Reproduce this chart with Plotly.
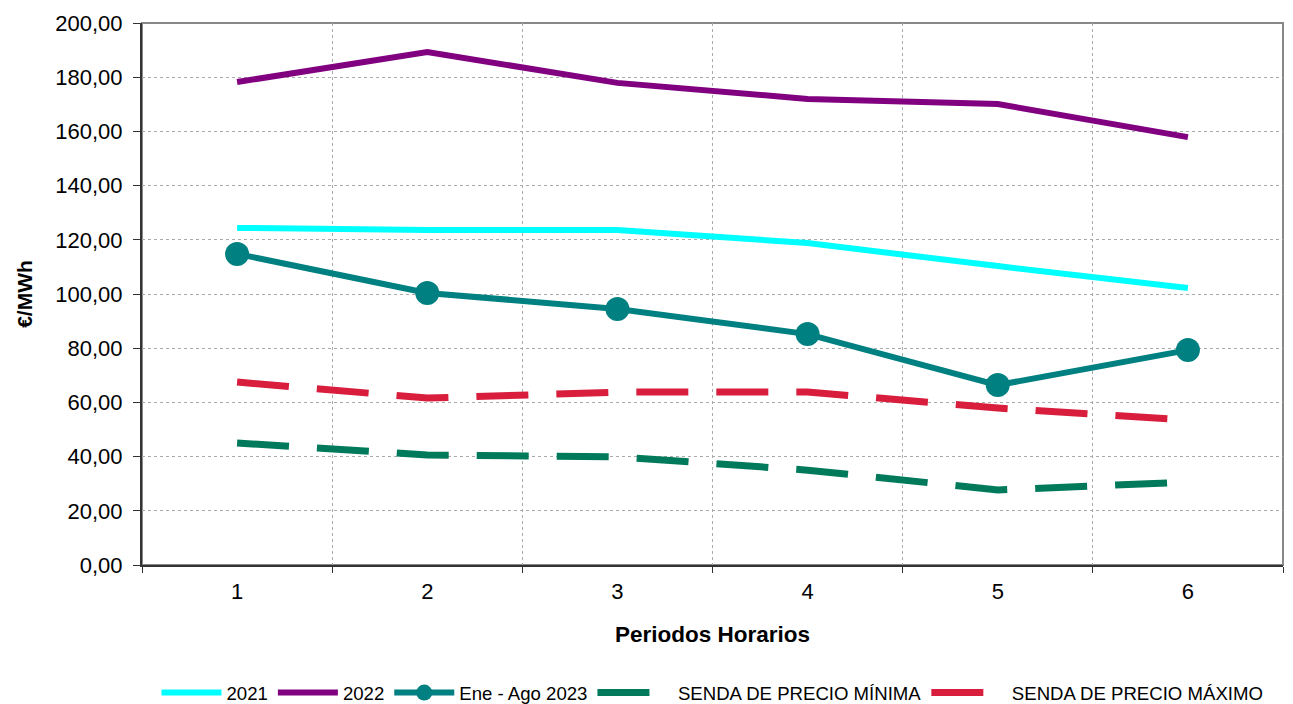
import plotly.graph_objects as go

periodos = [1, 2, 3, 4, 5, 6]
y2021 = [124.4, 123.6, 123.6, 118.8, 110.3, 102.2]
y2022 = [178.2, 189.3, 177.9, 172.0, 170.1, 157.9]
y2023 = [114.8, 100.4, 94.5, 85.2, 66.4, 79.3]
senda_min = [45.0, 40.6, 39.9, 35.0, 27.7, 30.6]
senda_max = [67.5, 61.6, 63.8, 63.8, 57.9, 53.5]

FONT = "Liberation Sans, Arial, sans-serif"

fig = go.Figure()
fig.add_trace(go.Scatter(x=periodos, y=y2021, name="2021", mode="lines",
                         line=dict(color="#00FFFF", width=6)))
fig.add_trace(go.Scatter(x=periodos, y=y2022, name="2022", mode="lines",
                         line=dict(color="#800080", width=6)))
fig.add_trace(go.Scatter(x=periodos, y=y2023, name="Ene - Ago 2023", mode="lines+markers",
                         line=dict(color="#008080", width=6),
                         marker=dict(color="#008080", size=24)))
fig.add_trace(go.Scatter(x=periodos, y=senda_min, name="   SENDA DE PRECIO MÍNIMA", mode="lines",
                         line=dict(color="#007A5A", width=7, dash="52px,28px")))
fig.add_trace(go.Scatter(x=periodos, y=senda_max, name="   SENDA DE PRECIO MÁXIMO", mode="lines",
                         line=dict(color="#D81E3C", width=7, dash="52px,28px")))

fig.update_layout(
    width=1293, height=704,
    margin=dict(l=134, r=18, t=15, b=147),
    paper_bgcolor="white", plot_bgcolor="white",
    separators=",.",
    font=dict(family=FONT, color="black", size=22),
    showlegend=True,
    legend=dict(orientation="h", xref="paper", x=0.5, xanchor="center",
                yref="container", y=0.027, yanchor="middle",
                font=dict(size=18.6, family=FONT), itemwidth=60, tracegroupgap=0,
                bgcolor="rgba(0,0,0,0)"),
    xaxis=dict(
        range=[0.5, 6.5], tickvals=periodos, ticktext=[str(p) for p in periodos],
        showgrid=False, ticks="", showline=True, linecolor="#333", linewidth=2,
        tickfont=dict(size=22), zeroline=False, automargin=False,
        ticklabelstandoff=6,
        minor=dict(tick0=0.5, dtick=1, showgrid=True, gridcolor="#AAAAAA",
                   griddash="dot", gridwidth=1, ticks="outside", ticklen=6,
                   tickcolor="#333"),
        title=dict(text="<b>Periodos Horarios</b>", font=dict(size=22.5), standoff=23),
    ),
    yaxis=dict(
        range=[0, 200], dtick=20, tickformat=".2f",
        showgrid=True, gridcolor="#AAAAAA", griddash="dot", gridwidth=1,
        ticks="outside", ticklen=7, tickcolor="#333",
        showline=True, linecolor="#333", linewidth=2, zeroline=False,
        tickfont=dict(size=22), automargin=False, ticklabelstandoff=6,
        title=dict(text="<b>€/MWh</b>", font=dict(size=21), standoff=17),
    ),
    shapes=[dict(type="rect", xref="x domain", yref="y domain", x0=0, x1=1, y0=0, y1=1,
                 line=dict(color="#888888", width=2), fillcolor="rgba(0,0,0,0)", layer="below")],
)

fig.write_html("out.html")
